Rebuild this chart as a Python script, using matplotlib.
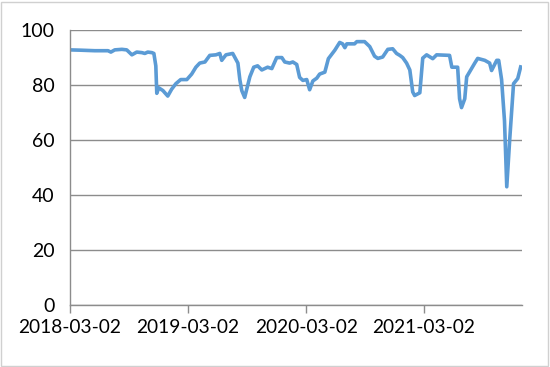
import pandas as pd
import matplotlib
matplotlib.use('Agg')
import matplotlib.pyplot as plt
import matplotlib.dates as mdates
from matplotlib.patches import Rectangle

# values
dates = [
    '2018-03-02', '2018-04-02', '2018-05-18', '2018-06-28', '2018-07-07', '2018-07-19',
    '2018-08-10', '2018-08-25', '2018-09-10', '2018-09-25', '2018-10-11', '2018-10-20',
    '2018-10-29', '2018-11-11', '2018-11-17', '2018-11-23', '2018-11-26', '2018-12-02',
    '2018-12-15', '2018-12-30', '2019-01-11', '2019-01-24', '2019-02-08', '2019-02-27',
    '2019-03-14', '2019-03-27', '2019-04-08', '2019-04-24', '2019-05-09', '2019-05-28',
    '2019-06-09', '2019-06-15', '2019-06-28', '2019-07-19', '2019-08-04', '2019-08-10',
    '2019-08-16', '2019-08-25', '2019-09-10', '2019-09-22', '2019-10-04', '2019-10-17',
    '2019-11-04', '2019-11-17', '2019-12-02', '2019-12-18', '2019-12-27', '2020-01-11',
    '2020-01-21', '2020-02-02', '2020-02-11', '2020-02-21', '2020-03-04', '2020-03-13',
    '2020-03-23', '2020-04-04', '2020-04-13', '2020-04-29', '2020-05-10', '2020-05-30',
    '2020-06-14', '2020-06-23', '2020-06-30', '2020-07-06', '2020-07-30', '2020-08-06',
    '2020-08-30', '2020-09-15', '2020-09-30', '2020-10-10', '2020-10-25', '2020-11-10',
    '2020-11-25', '2020-12-07', '2020-12-17', '2020-12-26', '2021-01-07', '2021-01-17',
    '2021-01-26', '2021-02-01', '2021-02-17', '2021-02-26', '2021-03-10', '2021-03-29',
    '2021-04-10', '2021-05-20', '2021-05-27', '2021-06-14', '2021-06-20', '2021-06-26',
    '2021-07-06', '2021-07-12', '2021-08-06', '2021-08-15', '2021-09-06', '2021-09-21',
    '2021-09-27', '2021-10-13', '2021-10-19', '2021-10-28', '2021-11-06', '2021-11-13',
    '2021-11-22', '2021-12-04', '2021-12-17', '2021-12-26',
]
values = [
    92.8, 92.7, 92.5, 92.5, 92.0, 92.8,
    93.0, 92.8, 91.0, 92.0, 91.8, 91.5,
    92.0, 91.8, 91.5, 87.0, 77.0, 79.0,
    78.0, 76.0, 78.5, 80.5, 82.0, 82.0,
    84.0, 86.5, 88.0, 88.4, 90.8, 91.0,
    91.5, 89.0, 91.0, 91.5, 88.0, 82.0,
    78.0, 75.5, 83.0, 86.5, 87.0, 85.5,
    86.5, 86.0, 90.0, 90.0, 88.4, 88.0,
    88.4, 87.5, 82.8, 81.7, 82.0, 78.3,
    81.5, 82.5, 84.0, 84.7, 89.6, 92.7,
    95.5, 95.0, 93.6, 95.0, 95.0, 95.8,
    95.8, 94.0, 90.5, 89.7, 90.2, 93.0,
    93.2, 91.5, 90.8, 90.0, 88.0, 85.5,
    77.5, 76.2, 77.2, 89.8, 91.0, 89.6,
    91.0, 90.8, 86.5, 86.5, 75.0, 71.8,
    75.0, 83.0, 88.0, 89.7, 89.0, 88.0,
    85.3, 89.0, 89.0, 82.0, 67.0, 43.0,
    60.0, 80.5, 82.4, 86.6,
]
tick_dates = ['2018-03-02', '2019-03-02', '2020-03-02', '2021-03-02']
x_start = '2018-03-02'
x_end = '2021-12-30'

x = pd.to_datetime(dates)
ticks = pd.to_datetime(tick_dates)

plt.rcParams['font.family'] = ['Lato', 'DejaVu Sans']

fig = plt.figure(figsize=(5.5, 3.67), dpi=100)
ax = fig.add_axes([0.127, 0.169, 0.822, 0.749])

grey = '#8c8c8c'
ax.plot(x, values, color='#5b9bd5', linewidth=2.6, solid_joinstyle='round')

ax.set_xlim(pd.Timestamp(x_start), pd.Timestamp(x_end))
ax.set_ylim(0, 100)
ax.set_yticks(range(0, 101, 20))
ax.set_xticks(ticks)
ax.xaxis.set_major_formatter(mdates.DateFormatter('%Y-%m-%d'))

ax.grid(axis='y', color=grey, linewidth=1.0)
ax.set_axisbelow(True)
for side in ['top', 'right']:
    ax.spines[side].set_visible(False)
for side in ['left', 'bottom']:
    ax.spines[side].set_color(grey)
    ax.spines[side].set_linewidth(1.0)

ax.tick_params(axis='y', length=0, pad=11, labelsize=14, colors='black')
ax.tick_params(axis='x', length=6, width=1.0, color=grey, pad=4, labelsize=13.8)

fig.patches.append(Rectangle((0.002, 0.003), 0.994, 0.992, transform=fig.transFigure,
                             fill=False, edgecolor='#d0d0d0', linewidth=1.0))

fig.savefig('out.png', dpi=100)
